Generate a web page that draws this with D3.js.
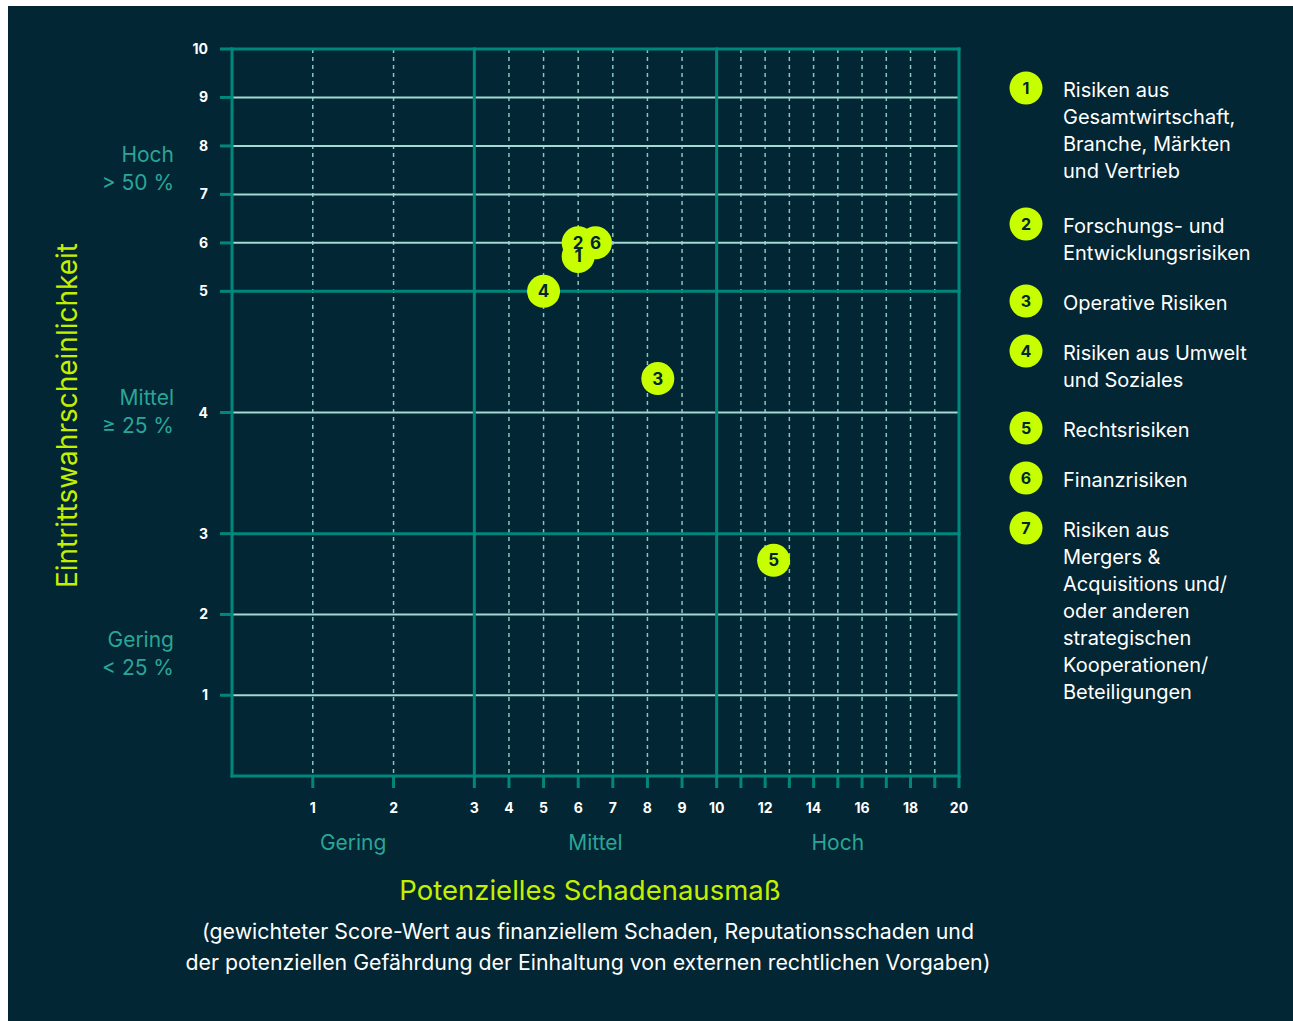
<!DOCTYPE html>
<html>
<head>
<meta charset="utf-8">
<script src="https://cdn.jsdelivr.net/npm/d3@7"></script>
<style>
  body { margin: 0; background: #ffffff; }
  svg { display: block; }
</style>
</head>
<body>
<svg id="chart" width="1293" height="1021"></svg>
<script>
// Data
const riskIds = [1, 2, 3, 4, 5, 6, 7];
const riskLabels = [
  ["Risiken aus", "Gesamtwirtschaft,", "Branche, Märkten", "und Vertrieb"],
  ["Forschungs- und", "Entwicklungsrisiken"],
  ["Operative Risiken"],
  ["Risiken aus Umwelt", "und Soziales"],
  ["Rechtsrisiken"],
  ["Finanzrisiken"],
  ["Risiken aus", "Mergers &", "Acquisitions und/", "oder anderen", "strategischen", "Kooperationen/", "Beteiligungen"]
];
// potenzielles Schadenausmaß (x) and Eintrittswahrscheinlichkeit (y), null = not plotted
const impact = [6, 6, 8.3, 5, 12.35, 6.5, null];
const probability = [5.72, 6, 4.28, 5, 2.67, 6, null];

const xTicks = [1, 2, 3, 4, 5, 6, 7, 8, 9, 10, 11, 12, 13, 14, 15, 16, 17, 18, 19, 20];
const xTickLabels = [1, 2, 3, 4, 5, 6, 7, 8, 9, 10, 12, 14, 16, 18, 20];
const xBands = [0, 3, 10, 20];
const yTicks = [1, 2, 3, 4, 5, 6, 7, 8, 9, 10];
const yBands = [0, 3, 5, 10];
const xBandNames = ["Gering", "Mittel", "Hoch"];
const yBandNames = [["Gering", "< 25 %"], ["Mittel", "≥ 25 %"], ["Hoch", "> 50 %"]];

// Colors
const bg = "#022633";
const lime = "#c8ff00";
const limeText = "#c4f000";
const teal = "#00877b";
const tealText = "#2ba597";
const lightGrid = "#a2dad1";
const font = "Inter, 'Open Sans', sans-serif";

const svg = d3.select("#chart");
svg.append("rect")
  .attr("x", 8).attr("y", 6)
  .attr("width", 1285).attr("height", 1015)
  .attr("fill", bg);

// plot area
const plotLeft = 232, plotRight = 959, plotTop = 49, plotBottom = 776;
const bandW = (plotRight - plotLeft) / 3, bandH = (plotBottom - plotTop) / 3;

// piecewise scales: three equal bands per axis
const x = d3.scaleLinear()
  .domain(xBands)
  .range(xBands.map((d, i) => plotLeft + i * bandW));
const y = d3.scaleLinear()
  .domain(yBands)
  .range(yBands.map((d, i) => plotBottom - i * bandH));

const g = svg.append("g");

// vertical grid
g.selectAll(".vgrid")
  .data(xTicks.filter(d => !xBands.includes(d)))
  .enter().append("line")
  .attr("x1", d => x(d)).attr("x2", d => x(d))
  .attr("y1", plotTop).attr("y2", plotBottom)
  .attr("stroke", "#86c6be")
  .attr("stroke-width", 1.5)
  .attr("stroke-dasharray", "4,4");

// horizontal grid
g.selectAll(".hgrid")
  .data(yTicks.filter(d => !yBands.includes(d)))
  .enter().append("line")
  .attr("x1", plotLeft).attr("x2", plotRight)
  .attr("y1", d => y(d)).attr("y2", d => y(d))
  .attr("stroke", lightGrid)
  .attr("stroke-width", 2);

// y ticks
g.selectAll(".ytick")
  .data(yTicks)
  .enter().append("line")
  .attr("x1", plotLeft - 12).attr("x2", plotLeft)
  .attr("y1", d => y(d)).attr("y2", d => y(d))
  .attr("stroke", teal)
  .attr("stroke-width", 3);

// x ticks
g.selectAll(".xtick")
  .data(xTicks)
  .enter().append("line")
  .attr("x1", d => x(d)).attr("x2", d => x(d))
  .attr("y1", plotBottom).attr("y2", plotBottom + 12)
  .attr("stroke", teal)
  .attr("stroke-width", 3);

// band borders
g.selectAll(".hband")
  .data(yBands)
  .enter().append("line")
  .attr("x1", plotLeft - 1.5).attr("x2", plotRight + 1.5)
  .attr("y1", d => y(d)).attr("y2", d => y(d))
  .attr("stroke", teal)
  .attr("stroke-width", 3);

g.selectAll(".vband")
  .data(xBands)
  .enter().append("line")
  .attr("x1", d => x(d)).attr("x2", d => x(d))
  .attr("y1", plotTop - 1.5).attr("y2", plotBottom + 1.5)
  .attr("stroke", teal)
  .attr("stroke-width", 3);

// tick labels
g.selectAll(".ylab")
  .data(yTicks)
  .enter().append("text")
  .attr("x", 208)
  .attr("y", d => y(d) + 5)
  .attr("text-anchor", "end")
  .attr("fill", "#ffffff")
  .style("font-family", font)
  .style("font-size", "14px")
  .style("font-weight", "bold")
  .text(d => d);

g.selectAll(".xlab")
  .data(xTickLabels)
  .enter().append("text")
  .attr("x", d => x(d))
  .attr("y", 813)
  .attr("text-anchor", "middle")
  .attr("fill", "#ffffff")
  .style("font-family", font)
  .style("font-size", "14px")
  .style("font-weight", "bold")
  .text(d => d);

// band names
g.selectAll(".xband")
  .data(xBandNames)
  .enter().append("text")
  .attr("x", (d, i) => (x(xBands[i]) + x(xBands[i + 1])) / 2)
  .attr("y", 850)
  .attr("text-anchor", "middle")
  .attr("fill", tealText)
  .style("font-family", font)
  .style("font-size", "21px")
  .text(d => d);

yBandNames.forEach((lines, i) => {
  const cy = (y(yBands[i]) + y(yBands[i + 1])) / 2;
  const t = g.append("text")
    .attr("text-anchor", "end")
    .attr("fill", tealText)
    .style("font-family", font)
    .style("font-size", "21px");
  lines.forEach((s, j) => {
    t.append("tspan")
      .attr("x", 174)
      .attr("y", cy - 8 + j * 28)
      .text(s);
  });
});

// axis titles
svg.append("text")
  .attr("transform", `translate(77, ${(plotTop + plotBottom) / 2 + 3}) rotate(-90)`)
  .attr("text-anchor", "middle")
  .attr("fill", limeText)
  .style("font-family", font)
  .style("font-size", "28px")
  .text("Eintrittswahrscheinlichkeit");

svg.append("text")
  .attr("x", 590).attr("y", 900)
  .attr("text-anchor", "middle")
  .attr("fill", limeText)
  .style("font-family", font)
  .style("font-size", "27.5px")
  .text("Potenzielles Schadenausmaß");

const subtitle = ["(gewichteter Score-Wert aus finanziellem Schaden, Reputationsschaden und",
  "der potenziellen Gefährdung der Einhaltung von externen rechtlichen Vorgaben)"];
svg.selectAll(".sub")
  .data(subtitle)
  .enter().append("text")
  .attr("x", 588)
  .attr("y", (d, i) => 939 + i * 31)
  .attr("text-anchor", "middle")
  .attr("fill", "#ffffff")
  .style("font-family", font)
  .style("font-size", "21.3px")
  .text(d => d);

// points
const points = riskIds.map((id, i) => ({ id: id, x: impact[i], y: probability[i] }))
  .filter(d => d.x !== null);

g.selectAll(".pt")
  .data(points)
  .enter().append("circle")
  .attr("cx", d => x(d.x))
  .attr("cy", d => y(d.y))
  .attr("r", 16.5)
  .attr("fill", lime);

g.selectAll(".ptlab")
  .data(points)
  .enter().append("text")
  .attr("x", d => x(d.x))
  .attr("y", d => y(d.y) + 6)
  .attr("text-anchor", "middle")
  .attr("fill", bg)
  .style("font-family", font)
  .style("font-size", "17px")
  .style("font-weight", "bold")
  .text(d => d.id);

// legend
const legend = svg.append("g");
let ly = 88;
riskIds.forEach((id, i) => {
  const item = legend.append("g").attr("transform", `translate(0, ${ly})`);
  item.append("circle")
    .attr("cx", 1026).attr("cy", 0)
    .attr("r", 16.5)
    .attr("fill", lime);
  item.append("text")
    .attr("x", 1026).attr("y", 6)
    .attr("text-anchor", "middle")
    .attr("fill", bg)
    .style("font-family", font)
    .style("font-size", "16px")
    .style("font-weight", "bold")
    .text(id);
  const t = item.append("text")
    .attr("fill", "#ffffff")
    .style("font-family", font)
    .style("font-size", "20px");
  riskLabels[i].forEach((s, j) => {
    t.append("tspan")
      .attr("x", 1063)
      .attr("y", 9 + j * 27)
      .text(s);
  });
  ly += riskLabels[i].length * 27 + (i === 0 ? 28 : 23);
});
</script>
</body>
</html>
